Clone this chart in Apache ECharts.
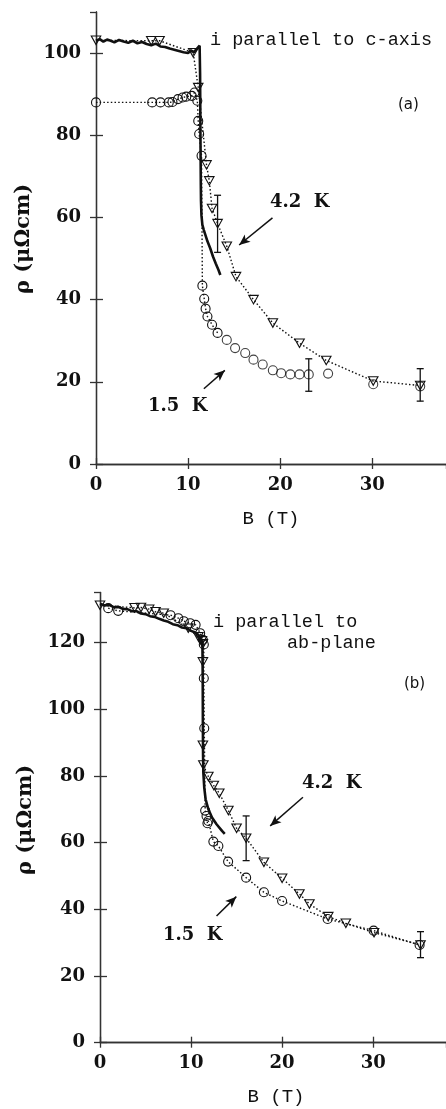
<!DOCTYPE html>
<html><head><meta charset="utf-8">
<script src="https://cdn.jsdelivr.net/npm/echarts@6/dist/echarts.min.js"></script>
<style>html,body{margin:0;padding:0;background:#fff}#c{width:446px;height:1109px}</style>
</head><body><div id="c"></div>
<script>
// ---------- Panel (a): i parallel to c-axis ----------
const aSolidX = [0,0.4,0.8,1.2,1.6,2.0,2.5,3.0,3.5,4.0,4.5,5.0,5.5,6.0,6.5,7.0,7.5,8.0,8.5,9.0,9.5,10.0,10.3,10.6,10.9,11.1,11.25,11.3,11.32,11.34,11.36,11.38,11.4,11.45,11.55,11.7,11.9,12.1,12.4,12.7,13.0,13.3,13.5];
const aSolidY = [103.0,103.4,102.8,103.3,103.0,102.6,103.2,102.8,102.5,103.0,102.4,102.7,102.2,101.9,102.3,101.6,101.5,101.1,100.8,100.5,100.2,100.0,100.7,100.2,100.9,101.3,101.8,95,88,80,74,68,64,60.5,58.2,57,55.6,54.2,52.5,50.5,48.8,47.2,46.0];
const aTri = [[0,103.1],[6.0,103.0],[6.9,103.0],[10.55,100.1],[11.1,91.6],[12.0,72.8],[12.3,68.9],[12.6,62.2],[13.2,58.5],[14.2,53.0],[15.2,45.6],[17.1,40.0],[19.2,34.3],[22.1,29.4],[25.0,25.2],[30.1,20.2],[35.2,19.1]];
const aCircLine = [[0,88.0],[6.1,88.0],[7.0,88.0],[7.9,88.0],[8.3,88.1],[8.9,88.8],[9.4,89.2],[9.8,89.4],[10.4,89.6],[10.7,90.4],[11.0,88.4],[11.1,83.5],[11.2,80.3],[11.46,75.0],[11.55,43.4],[11.75,40.2],[11.9,37.8],[12.1,35.9],[12.6,33.9],[13.2,31.9]];
const aCircFree = [[14.2,30.2],[15.1,28.2],[16.2,27.0],[17.1,25.4],[18.1,24.2],[19.2,22.8],[20.1,22.1],[21.1,21.8],[22.1,21.8],[23.1,21.8],[25.2,22.0],[30.1,19.4],[35.2,18.9]];
const aErr = [[13.2,51.5,65.4],[23.1,17.7,25.6],[35.2,15.3,23.2]];
const aArrow42 = [[19.16,59.9],[15.54,53.3]];
const aArrow15 = [[11.71,18.3],[13.99,22.8]];

// ---------- Panel (b): i parallel to ab-plane ----------
const bSolidX = [0,0.5,1,1.5,2,2.5,3,3.5,4,4.5,5,5.5,6,6.5,7,7.5,8,8.5,9,9.5,10,10.4,10.8,11.0,11.15,11.25,11.28,11.3,11.32,11.35,11.45,11.6,11.9,12.3,12.8,13.4,13.7];
const bSolidY = [131.6,131.1,131.3,130.6,130.7,130.1,130.0,129.4,129.4,128.7,128.5,127.9,127.7,127.1,126.6,126.2,125.5,125.2,124.5,124.3,123.5,123.1,122.3,121.5,120.5,119.2,110,95,86,81,76.5,73,70,67.5,65.5,63.5,62.6];
const bTri = [[0,131.2],[3.8,130.4],[4.5,130.5],[5.4,130.0],[6.1,129.2],[7.0,128.8],[9.7,124.3],[10.8,121.7],[11.2,120.5],[11.3,119.6],[11.3,114.2],[11.3,89.2],[11.35,83.3],[11.9,79.8],[12.5,77.1],[13.1,74.8],[14.1,69.6],[15.0,64.3],[16.05,61.3],[18.0,54.1],[20.0,49.3],[21.9,44.6],[23.0,41.6],[25.07,37.8],[27.0,35.8],[30.1,33.0],[35.2,29.3]];
const bCirc = [[0.9,130.3],[2.0,129.5],[7.75,128.2],[8.6,127.3],[9.2,126.4],[9.9,125.8],[10.5,125.3],[11.0,122.8],[11.3,120.8],[11.4,119.4],[11.4,109.3],[11.45,94.3],[11.55,69.6],[11.7,68.0],[11.8,65.8],[11.9,66.5],[12.45,60.3],[13.0,59.0],[14.07,54.3],[16.05,49.5],[18.0,45.1],[20.0,42.5],[25.0,37.1],[30.05,33.6],[35.1,29.3]];
const bErr = [[16.05,54.6,68.0],[35.2,25.5,33.3]];
const bArrow42 = [[22.29,73.6],[18.69,65.0]];
const bArrow15 = [[12.8,38.0],[14.97,43.8]];

const X_MAX = 38, A_YMAX = 110, B_YMAX = 135, X_INT = 10, Y_INT = 20;

const zip = (xs, ys) => xs.map((x, i) => [x, ys[i]]);
const tickFont = {fontFamily: 'DejaVu Serif', fontWeight: 'bold', fontSize: 18, color: '#111'};
const axisLine = {show: true, lineStyle: {color: '#333', width: 1.3}};

function axesFor(gi, ymax) {
  return {
    x: [
      {gridIndex: gi, type: 'value', min: 0, max: X_MAX, interval: X_INT, position: 'bottom',
       axisLine, axisTick: {inside: true, length: 6, lineStyle: {color: '#333', width: 1.3}},
       axisLabel: Object.assign({margin: 12, showMaxLabel: false}, tickFont), splitLine: {show: false}},
      {gridIndex: gi, type: 'value', min: 0, max: X_MAX, interval: X_INT, position: 'top',
       axisLine, axisTick: {inside: true, length: 5, lineStyle: {color: '#333', width: 1.3}},
       axisLabel: {show: false}, splitLine: {show: false}}
    ],
    y: [
      {gridIndex: gi, type: 'value', min: 0, max: ymax, interval: Y_INT, position: 'left',
       axisLine, axisTick: {inside: true, length: 7, lineStyle: {color: '#333', width: 1.3}},
       axisLabel: Object.assign({margin: 15, showMaxLabel: false}, tickFont), splitLine: {show: false}},
      {gridIndex: gi, type: 'value', min: 0, max: ymax, interval: Y_INT, position: 'right',
       axisLine, axisTick: {inside: true, length: 6, lineStyle: {color: '#333', width: 1.3}},
       axisLabel: {show: false}, splitLine: {show: false}}
    ]
  };
}
const A = axesFor(0, A_YMAX), B = axesFor(1, B_YMAX);

const hollow = {color: 'rgba(0,0,0,0)', borderColor: '#111', borderWidth: 1.1};
const dotted = {color: '#111', width: 1.4, type: [1.5, 2.2]};

function solid(xi, yi, data) {
  return {type: 'line', xAxisIndex: xi, yAxisIndex: yi, data, symbol: 'none', silent: true,
    lineStyle: {color: '#111', width: 2.6}, z: 3};
}
function tri(xi, yi, data) {
  return {type: 'line', xAxisIndex: xi, yAxisIndex: yi, data, symbol: 'triangle', symbolRotate: 180,
    symbolSize: [9.5, 8.5], itemStyle: hollow, lineStyle: dotted, z: 4};
}
function circ(xi, yi, data, line) {
  return {type: line ? 'line' : 'scatter', xAxisIndex: xi, yAxisIndex: yi, data, symbol: 'circle',
    symbolSize: 9, itemStyle: hollow, lineStyle: dotted, z: 4};
}
function err(xi, yi, data) {
  return {type: 'custom', xAxisIndex: xi, yAxisIndex: yi, data, z: 5,
    renderItem: (params, api) => {
      const lo = api.coord([api.value(0), api.value(1)]);
      const hi = api.coord([api.value(0), api.value(2)]);
      const w = 3.5, st = {stroke: '#111', lineWidth: 1.3};
      return {type: 'group', children: [
        {type: 'line', shape: {x1: lo[0], y1: lo[1], x2: hi[0], y2: hi[1]}, style: st},
        {type: 'line', shape: {x1: lo[0]-w, y1: lo[1], x2: lo[0]+w, y2: lo[1]}, style: st},
        {type: 'line', shape: {x1: hi[0]-w, y1: hi[1], x2: hi[0]+w, y2: hi[1]}, style: st}
      ]};
    }};
}
function arrows(xi, yi, list) {
  return {type: 'line', xAxisIndex: xi, yAxisIndex: yi, data: [], silent: true,
    markLine: {silent: true, symbol: ['none', 'arrow'], symbolSize: [7, 11],
      lineStyle: {color: '#111', width: 1.5, type: 'solid'}, label: {show: false},
      data: list.map(a => [{coord: a[0]}, {coord: a[1]}])}};
}

const txt = (x, y, text, font, extra) => Object.assign({type: 'text', x, y,
  style: Object.assign({text, fill: '#111', align: 'left', verticalAlign: 'middle'}, font)}, extra || {});
const mono = {font: '18.5px "Liberation Mono"'};
const bold = {font: 'bold 18px "DejaVu Serif"'};
const ylab = (x, y) => ({type: 'text', x, y, rotation: Math.PI / 2,
  style: {text: 'ρ (μΩcm)', fill: '#111', align: 'center', verticalAlign: 'middle',
    font: 'bold 21px "DejaVu Serif"'}});

const chart = echarts.init(document.getElementById('c'), null, {renderer: 'canvas'});
chart.setOption({
  animation: false,
  backgroundColor: '#fff',
  grid: [
    {left: 96, top: 12, width: 351, height: 452},
    {left: 100, top: 592.5, width: 351, height: 450.2}
  ],
  xAxis: A.x.concat(B.x),
  yAxis: A.y.concat(B.y),
  series: [
    solid(0, 0, zip(aSolidX, aSolidY)),
    tri(0, 0, aTri),
    circ(0, 0, aCircLine, true),
    circ(0, 0, aCircFree, false),
    err(0, 0, aErr),
    arrows(0, 0, [aArrow42, aArrow15]),
    solid(2, 2, zip(bSolidX, bSolidY)),
    tri(2, 2, bTri),
    circ(2, 2, bCirc, true),
    err(2, 2, bErr),
    arrows(2, 2, [bArrow42, bArrow15])
  ],
  graphic: [
    txt(210, 40, 'i parallel to c-axis', mono),
    txt(398, 105, '(a)', {font: '15px "DejaVu Sans"'}),
    txt(270, 202, '4.2  K', bold),
    txt(148, 406, '1.5  K', bold),
    {type: 'text', x: 271, y: 519, style: {text: 'B (T)', fill: '#111', align: 'center', verticalAlign: 'middle', font: '19px "Liberation Mono"'}},
    ylab(24, 239),
    txt(213, 622, 'i parallel to', mono),
    txt(287, 643, 'ab-plane', mono),
    txt(404, 684, '(b)', {font: '15px "DejaVu Sans"'}),
    txt(302, 783, '4.2  K', bold),
    txt(163, 935, '1.5  K', bold),
    {type: 'text', x: 276, y: 1097, style: {text: 'B (T)', fill: '#111', align: 'center', verticalAlign: 'middle', font: '19px "Liberation Mono"'}},
    ylab(26, 820)
  ]
});
</script></body></html>
